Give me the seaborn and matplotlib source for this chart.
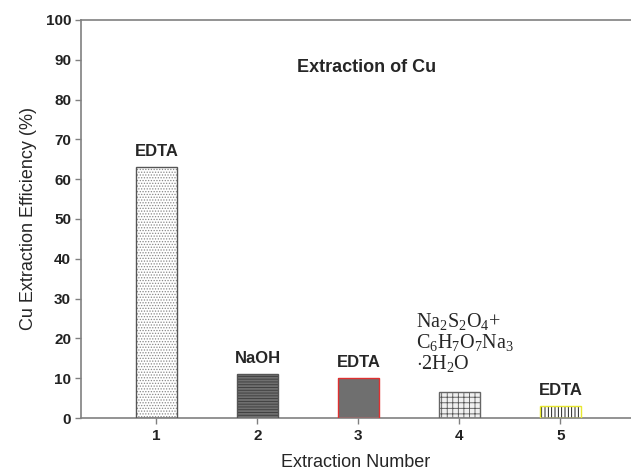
import matplotlib
matplotlib.use("Agg")
import matplotlib.pyplot as plt
from matplotlib.patches import Rectangle
import seaborn as sns
import pandas as pd

# values
extraction = ["1", "2", "3", "4", "5"]
efficiency = [63, 11, 10, 6.5, 3]
reagents = ["EDTA", "NaOH", "EDTA", None, "EDTA"]
formula = r"Na$_2$S$_2$O$_4$+" "\n" r"C$_6$H$_7$O$_7$Na$_3$" "\n" r"$\cdot$2H$_2$O"

faces = ["white", "#6f6f6f", "#6f6f6f", "#f0f0f0", "white"]
hatches = ["......", "------", "", "+++", "|||||"]
hatch_cols = ["#888888", "#3a3a3a", "#6f6f6f", "#555555", "black"]
outlines = ["#555555", "#555555", "#e03030", "#666666", "#e8e830"]

sns.set_theme(style="white")
plt.rcParams["font.family"] = ["Liberation Sans", "DejaVu Sans"]
plt.rcParams["mathtext.fontset"] = "custom"
plt.rcParams["mathtext.rm"] = "Liberation Serif"
plt.rcParams["mathtext.it"] = "Liberation Serif:italic"
plt.rcParams["hatch.linewidth"] = 0.6

df = pd.DataFrame({"n": extraction, "eff": efficiency})

fig = plt.figure(figsize=(6.31, 4.73), dpi=100)
ax = fig.add_axes([0.128, 0.116, 0.872, 0.842])
sns.barplot(data=df, x="n", y="eff", width=0.4, ax=ax, color="white")

for p, fc, h, hc, oc in zip(ax.patches, faces, hatches, hatch_cols, outlines):
    p.set_facecolor(fc)
    p.set_hatch(h)
    p.set_edgecolor(hc)
    p.set_linewidth(0)
    ax.add_patch(Rectangle(p.get_xy(), p.get_width(), p.get_height(),
                           fill=False, edgecolor=oc, linewidth=1.0, zorder=3))

for i, (val, lab) in enumerate(zip(efficiency, reagents)):
    if lab is None:
        ax.annotate(formula, (i, val), xytext=(-31, 13), textcoords="offset points",
                    ha="left", va="bottom", fontsize=14.5, family="Liberation Serif",
                    linespacing=1.0)
    else:
        ax.annotate(lab, (i, val), xytext=(0, 6), textcoords="offset points",
                    ha="center", va="bottom", fontsize=12, fontweight="bold")

ax.text(2.08, 88, "Extraction of Cu", ha="center", va="center",
        fontsize=13, fontweight="bold")

ax.set_xlim(-0.75, 4.70)
ax.set_ylim(0, 100)
ax.set_yticks(range(0, 101, 10))
ax.set_xlabel("Extraction Number", fontsize=13, labelpad=8)
ax.set_ylabel("Cu Extraction Efficiency (%)", fontsize=13, labelpad=6)
ax.tick_params(axis="both", direction="out", length=4, width=1, color="#808080",
               labelsize=11, labelcolor="#222222", left=True, bottom=True)
ax.tick_params(axis="y", pad=3)
for lbl in ax.get_xticklabels() + ax.get_yticklabels():
    lbl.set_fontweight("bold")
for s in ["left", "bottom", "top"]:
    ax.spines[s].set_color("#808080")
    ax.spines[s].set_linewidth(1.2)
ax.spines["right"].set_visible(False)

fig.savefig("out.png", dpi=100)
